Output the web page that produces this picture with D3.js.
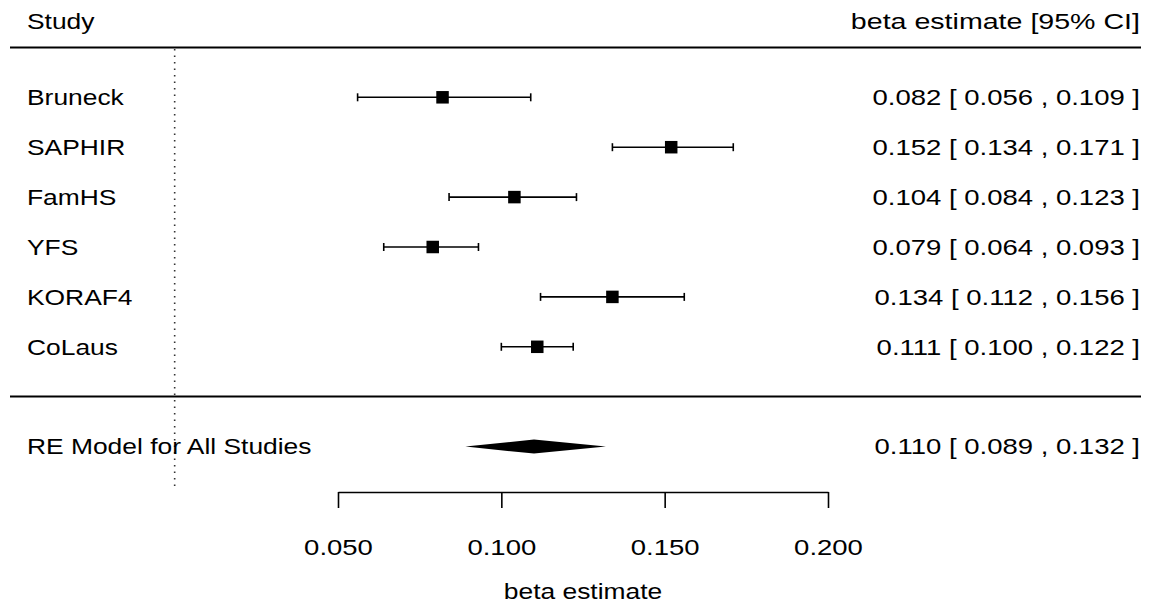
<!DOCTYPE html>
<html>
<head>
<meta charset="utf-8">
<script src="https://cdn.jsdelivr.net/npm/d3@7"></script>
<style>
  body { margin: 0; background: #fff; }
  svg text { font-family: "Liberation Sans", Arial, Helvetica, sans-serif; fill: #000; }
</style>
</head>
<body>
<div id="chart"></div>
<script>
// data
const studies = ["Bruneck", "SAPHIR", "FamHS", "YFS", "KORAF4", "CoLaus"];
const estimates = [0.082, 0.152, 0.104, 0.079, 0.134, 0.111];
const lower = [0.056, 0.134, 0.084, 0.064, 0.112, 0.100];
const upper = [0.109, 0.171, 0.123, 0.093, 0.156, 0.122];
const summaryLabel = "RE Model for All Studies";
const summary = [0.110, 0.089, 0.132]; // est, lower, upper
const tickValues = [0.05, 0.10, 0.15, 0.20];

const width = 1151, height = 604;
const fs = 22;
const stretch = 1.2;     // the original glyphs are wider than they are tall
const numStretch = 1.25; // right-hand annotation column

const svg = d3.select("#chart").append("svg")
    .attr("width", width).attr("height", height);

const x = d3.scaleLinear().domain([0.05, 0.20]).range([338, 828]);
// rows: 6 studies, then a gap, then the summary
const y = d3.scaleLinear().domain([0, 1]).range([97.3, 147.2]);
const ySum = y(7);

const fmt = d3.format(".3f");
const ci = (e, l, h) => `${fmt(e)} [ ${fmt(l)} , ${fmt(h)} ]`;

// text placed at (tx, ty) and stretched horizontally around that point
function label(sel, tx, ty, str, anchor, sx) {
    return sel.append("text")
        .attr("transform", `translate(${tx},${ty}) scale(${sx || stretch},1)`)
        .attr("font-size", fs)
        .attr("text-anchor", anchor || "start")
        .text(str);
}

// header
label(svg, 27, 29, "Study");
label(svg, 1140, 29, "beta estimate [95% CI]", "end", 1.3);

// horizontal rules
svg.append("line").attr("x1", 10).attr("x2", 1141).attr("y1", 47.5).attr("y2", 47.5)
    .attr("stroke", "#000").attr("stroke-width", 2);
svg.append("line").attr("x1", 10).attr("x2", 1141).attr("y1", 396.5).attr("y2", 396.5)
    .attr("stroke", "#000").attr("stroke-width", 2);

// reference line at 0
svg.append("line").attr("x1", x(0)).attr("x2", x(0)).attr("y1", 49).attr("y2", 490)
    .attr("stroke", "#333").attr("stroke-width", 1.6)
    .attr("stroke-dasharray", "1.6,4.9");

const rows = studies.map((s, i) => ({ name: s, est: estimates[i], lo: lower[i], hi: upper[i], i }));

const row = svg.append("g").selectAll("g.row").data(rows).join("g")
    .attr("class", "row")
    .attr("transform", d => `translate(0,${y(d.i)})`);

row.each(function(d) {
    const r = d3.select(this);
    label(r, 27, 0, d.name).attr("dy", "0.35em");
    label(r, 1140, 0, ci(d.est, d.lo, d.hi), "end", numStretch).attr("dy", "0.35em");
});

row.append("line").attr("x1", d => x(d.lo)).attr("x2", d => x(d.hi))
    .attr("stroke", "#000").attr("stroke-width", 1.6);
row.append("line").attr("x1", d => x(d.lo)).attr("x2", d => x(d.lo))
    .attr("y1", -4).attr("y2", 4).attr("stroke", "#000").attr("stroke-width", 1.6);
row.append("line").attr("x1", d => x(d.hi)).attr("x2", d => x(d.hi))
    .attr("y1", -4).attr("y2", 4).attr("stroke", "#000").attr("stroke-width", 1.6);

const sq = 12.5;
row.append("rect").attr("x", d => x(d.est) - sq / 2).attr("y", -sq / 2)
    .attr("width", sq).attr("height", sq).attr("fill", "#000");

// summary row
label(svg, 27, ySum, summaryLabel).attr("dy", "0.35em");
svg.append("path")
    .attr("d", d3.line()([[x(summary[1]), ySum], [x(summary[0]), ySum - 7],
                         [x(summary[2]), ySum], [x(summary[0]), ySum + 7]]) + "Z")
    .attr("fill", "#000");
label(svg, 1140, ySum, ci(summary[0], summary[1], summary[2]), "end", numStretch)
    .attr("dy", "0.35em");

// x axis
const axis = svg.append("g").attr("transform", "translate(0,492)")
    .call(d3.axisBottom(x).tickValues(tickValues).tickFormat(fmt)
        .tickSize(16).tickSizeOuter(0).tickPadding(31));
axis.select(".domain").attr("stroke-width", 1.6);
axis.selectAll(".tick line").attr("stroke-width", 1.6);
axis.selectAll(".tick text").attr("font-size", fs)
    .attr("font-family", "'Liberation Sans', Arial, Helvetica, sans-serif")
    .attr("transform", `scale(${numStretch},1)`);

label(svg, x(0.125), 599, "beta estimate", "middle");
</script>
</body>
</html>
